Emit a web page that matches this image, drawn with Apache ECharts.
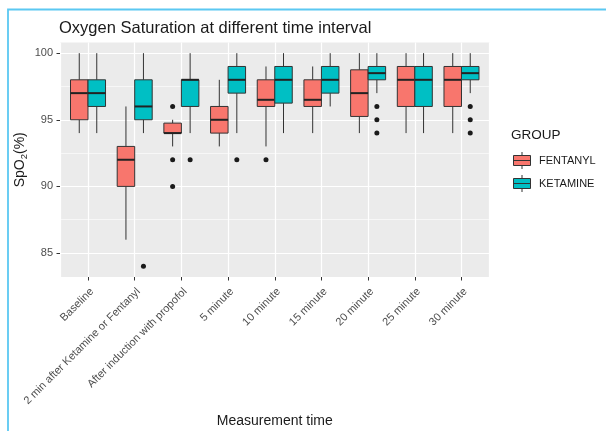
<!DOCTYPE html>
<html>
<head>
<meta charset="utf-8">
<title>Oxygen Saturation at different time interval</title>
<script src="https://cdn.jsdelivr.net/npm/echarts@6/dist/echarts.min.js"></script>
<style>
  html, body { margin: 0; padding: 0; background: #fff; }
  #main { width: 606px; height: 431px; }
</style>
</head>
<body>
<div id="main"></div>
<script>
// x axis categories
var categories = ['Baseline', '2 min after Ketamine or Fentanyl', 'After induction with propofol',
  '5 minute', '10 minute', '15 minute', '20 minute', '25 minute', '30 minute'];

// [lower whisker, Q1, median, Q3, upper whisker] per time point
var fentanylBox = [
  [94, 95, 97, 98, 100],
  [86, 90, 92, 93, 96],
  [93, 94, 94, 94.75, 95],
  [93, 94, 95, 96, 98],
  [93, 96, 96.5, 98, 99],
  [94, 96, 96.5, 98, 99],
  [94, 95.25, 97, 98.75, 100],
  [94, 96, 98, 99, 100],
  [94, 96, 98, 99, 100]
];
var ketamineBox = [
  [94, 96, 97, 98, 100],
  [94, 95, 96, 98, 100],
  [94, 96, 98, 98, 100],
  [94, 97, 98, 99, 100],
  [94, 96.25, 98, 99, 100],
  [96, 97, 98, 99, 100],
  [97, 98, 98.5, 99, 100],
  [94, 96, 98, 99, 100],
  [97, 98, 98.5, 99, 100]
];

// outliers: [category index, value]
var fentanylOut = [[2, 96], [2, 92], [2, 90], [4, 92]];
var ketamineOut = [[1, 84], [2, 92], [3, 92], [6, 96], [6, 95], [6, 94], [8, 96], [8, 95], [8, 94]];

var yTicks = [85, 90, 95, 100];

var font = 'Liberation Sans, Arial, sans-serif';
var fentColor = '#F8766D';
var ketColor = '#00BFC4';
var keyIcon = 'path://M8.5,0L8.5,3.5M0,3.5L17,3.5L17,13.5L0,13.5ZM0,8.5L17,8.5M8.5,13.5L8.5,17';

// dodge: each box is 0.375 of a category, shifted half of that to the side
function boxItem(side) {
  return function (params, api) {
    var i = api.value(0);
    var half = api.size([1, 0])[0] * 0.1875;
    var cx = api.coord([i, api.value(3)])[0] + side * half;
    var lo = api.coord([i, api.value(1)])[1];
    var q1 = api.coord([i, api.value(2)])[1];
    var med = api.coord([i, api.value(3)])[1];
    var q3 = api.coord([i, api.value(4)])[1];
    var hi = api.coord([i, api.value(5)])[1];
    var wl = { stroke: '#333', lineWidth: 1 };
    return {
      type: 'group',
      children: [
        { type: 'line', shape: { x1: cx, y1: hi, x2: cx, y2: q3 }, style: wl },
        { type: 'line', shape: { x1: cx, y1: q1, x2: cx, y2: lo }, style: wl },
        { type: 'rect', shape: { x: cx - half, y: q3, width: half * 2, height: q1 - q3 },
          style: { fill: api.visual('color'), stroke: '#333', lineWidth: 1 } },
        { type: 'line', shape: { x1: cx - half, y1: med, x2: cx + half, y2: med },
          style: { stroke: '#222', lineWidth: 2 } }
      ]
    };
  };
}

function dotItem(side) {
  return function (params, api) {
    var half = api.size([1, 0])[0] * 0.1875;
    var p = api.coord([api.value(0), api.value(1)]);
    return { type: 'circle', shape: { cx: p[0] + side * half, cy: p[1], r: 2.5 }, style: { fill: '#1a1a1a' } };
  };
}

function withIndex(rows) {
  return rows.map(function (r, i) { return [i].concat(r); });
}

var myChart = echarts.init(document.getElementById('main'));

var option = {
  animation: false,
  backgroundColor: '#fff',
  textStyle: { fontFamily: font },
  title: [{
    text: 'Oxygen Saturation at different time interval',
    left: 59, top: 20, padding: 0,
    textStyle: { fontSize: 16.5, fontWeight: 'normal', color: '#1a1a1a', fontFamily: font }
  }, {
    text: 'GROUP',
    left: 511, top: 128, padding: 0,
    textStyle: { fontSize: 13.5, fontWeight: 'normal', color: '#1a1a1a', fontFamily: font }
  }],
  legend: {
    orient: 'vertical',
    left: 513, top: 151.5, padding: 0,
    itemWidth: 18, itemHeight: 17, itemGap: 5,
    selectedMode: false,
    icon: keyIcon,
    itemStyle: { borderColor: '#333', borderWidth: 1 },
    textStyle: { fontSize: 11, color: '#1a1a1a', fontFamily: font, padding: [0, 0, 0, 3] },
    data: ['FENTANYL', 'KETAMINE']
  },
  graphic: [{
    type: 'polyline', silent: true, z: -10,
    shape: { points: [[8, 440], [8, 9.5], [610, 9.5]] },
    style: { fill: 'none', stroke: '#5BC8F2', lineWidth: 1.8 }
  }],
  grid: [
    { left: 60, top: 42.5, width: 429.5, height: 234.5, show: true, backgroundColor: '#EBEBEB', borderWidth: 0, outerBoundsMode: 'none' },
    { left: 64.67, top: 42.5, width: 420.16, height: 234.5, outerBoundsMode: 'none' }
  ],
  xAxis: [{
    type: 'value', gridIndex: 0, min: -0.6, max: 8.6, minInterval: 1, maxInterval: 1,
    axisLine: { show: false, onZero: false }, axisTick: { show: false }, axisLabel: { show: false },
    splitLine: { show: true, lineStyle: { color: '#fff', width: 1.2 } }
  }, {
    type: 'category', gridIndex: 1, data: categories,
    name: 'Measurement time', nameLocation: 'middle', nameGap: 137,
    nameTextStyle: { fontSize: 14, color: '#1a1a1a', fontFamily: font },
    axisLine: { show: false, onZero: false },
    axisTick: { show: true, alignWithLabel: true, length: 3.5, lineStyle: { color: '#333' } },
    axisLabel: { interval: 0, rotate: 45, margin: 9, verticalAlign: 'top', fontSize: 11, color: '#4D4D4D', fontFamily: font },
    splitLine: { show: false }
  }],
  yAxis: [{
    type: 'value', gridIndex: 0, min: 83.2, max: 100.8, minInterval: 5, maxInterval: 5,
    name: '{n|SpO}{s|2}{n|(%)}', nameLocation: 'middle', nameGap: 31, nameRotate: 90,
    nameMoveOverlap: false,
    nameTextStyle: {
      rich: {
        n: { fontSize: 14, color: '#1a1a1a', fontFamily: font, lineHeight: 18 },
        s: { fontSize: 9.5, color: '#1a1a1a', fontFamily: font, lineHeight: 9, verticalAlign: 'bottom' }
      }
    },
    axisLine: { show: false, onZero: false },
    axisTick: { show: true, length: 3.5, customValues: yTicks, lineStyle: { color: '#333' } },
    axisLabel: {
      customValues: yTicks, margin: 7, fontSize: 11, color: '#4D4D4D', fontFamily: font,
      formatter: function (v) { return v % 5 === 0 ? String(v) : ''; }
    },
    splitLine: { show: true, lineStyle: { color: '#fff', width: 1.2 } },
    minorTick: { show: false, splitNumber: 2 },
    minorSplitLine: { show: true, lineStyle: { color: '#fff', width: 0.6 } }
  }, {
    type: 'value', gridIndex: 1, min: 83.2, max: 100.8, show: false
  }],
  series: [{
    name: 'FENTANYL', type: 'custom', xAxisIndex: 0, yAxisIndex: 0, silent: true, z: 3,
    itemStyle: { color: fentColor, borderColor: '#333', borderWidth: 1 },
    renderItem: boxItem(-1),
    encode: { x: 0, y: [1, 2, 3, 4, 5] },
    data: withIndex(fentanylBox)
  }, {
    name: 'KETAMINE', type: 'custom', xAxisIndex: 0, yAxisIndex: 0, silent: true, z: 3,
    itemStyle: { color: ketColor, borderColor: '#333', borderWidth: 1 },
    renderItem: boxItem(1),
    encode: { x: 0, y: [1, 2, 3, 4, 5] },
    data: withIndex(ketamineBox)
  }, {
    name: 'FENTANYL outliers', type: 'custom', xAxisIndex: 0, yAxisIndex: 0, silent: true, z: 4,
    renderItem: dotItem(-1),
    encode: { x: 0, y: 1 },
    data: fentanylOut
  }, {
    name: 'KETAMINE outliers', type: 'custom', xAxisIndex: 0, yAxisIndex: 0, silent: true, z: 4,
    renderItem: dotItem(1),
    encode: { x: 0, y: 1 },
    data: ketamineOut
  }]
};

myChart.setOption(option);
</script>
</body>
</html>
